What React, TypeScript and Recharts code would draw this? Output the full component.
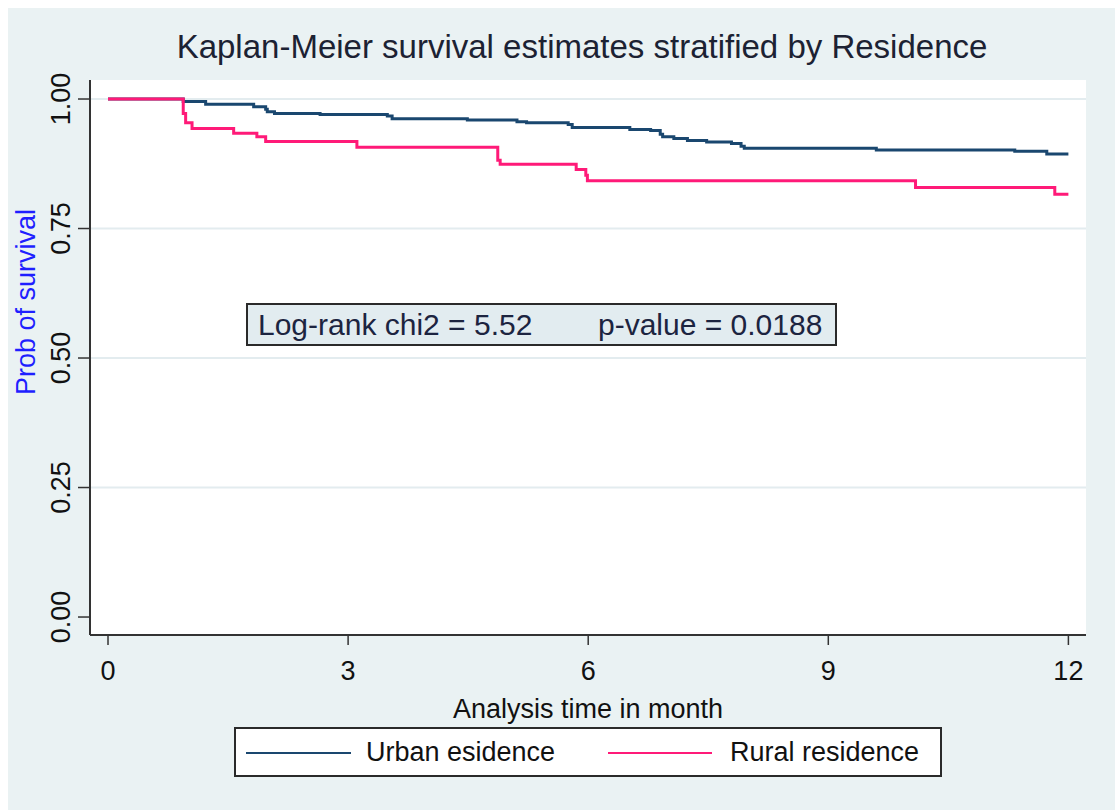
import React from 'react';
import {
    LineChart,
    Line,
    XAxis,
    YAxis,
    CartesianGrid,
    Label,
} from 'recharts';

// Kaplan-Meier step points (time in months, survival prob)
const urbanTime = [0, 0.94, 1.22, 1.82, 1.97, 1.99, 2.08, 2.65, 3.49, 3.55, 4.49, 5.11, 5.23, 5.75, 5.8, 6.52, 6.78, 6.9, 6.93, 7.07, 7.24, 7.48, 7.79, 7.91, 7.95, 9.6, 11.33, 11.73, 12];
const urbanSurv = [1.0, 0.995, 0.99, 0.985, 0.98, 0.9755, 0.972, 0.97, 0.967, 0.962, 0.9595, 0.956, 0.954, 0.951, 0.945, 0.941, 0.939, 0.932, 0.927, 0.924, 0.92, 0.917, 0.914, 0.909, 0.905, 0.9015, 0.899, 0.894, 0.894];

const ruralTime = [0, 0.94, 0.97, 1.05, 1.57, 1.86, 1.97, 3.11, 4.87, 4.9, 5.85, 5.97, 5.99, 10.09, 11.83, 12];
const ruralSurv = [1.0, 0.972, 0.954, 0.943, 0.934, 0.927, 0.918, 0.907, 0.882, 0.874, 0.864, 0.853, 0.842, 0.829, 0.816, 0.816];

const xTicks = [0, 3, 6, 9, 12];
const yTicks = [0, 0.25, 0.5, 0.75, 1];
const gridValues = [0.25, 0.5, 0.75, 1];

const seriesNames = ['Urban esidence', 'Rural residence'];
const chiLabel = 'Log-rank chi2 = 5.52';
const pLabel = 'p-value = 0.0188';

const NAVY = '#1a476f';
const PINK = '#ff1a78';
const FONT = '"Liberation Sans", Arial, sans-serif';

const urbanData = urbanTime.map((t, i) => ({ t, s: urbanSurv[i] }));
const ruralData = ruralTime.map((t, i) => ({ t, s: ruralSurv[i] }));

const YTick = (props: any) => {
    const { y, payload } = props;
    return (
        <text
            x={70}
            y={y}
            transform={`rotate(-90 70 ${y})`}
            textAnchor="middle"
            fontSize={27}
            fontFamily={FONT}
            fill="#111"
        >
            {payload.value.toFixed(2)}
        </text>
    );
};

const XTick = (props: any) => {
    const { x, payload } = props;
    return (
        <text x={x} y={680} textAnchor="middle" fontSize={27} fontFamily={FONT} fill="#111">
            {payload.value}
        </text>
    );
};

export default function App() {
    return (
        <div style={{ position: 'absolute', left: 0, top: 0, width: 1118, height: 810, background: '#fff', fontFamily: FONT }}>
            <div style={{ position: 'absolute', left: 8, top: 8, width: 1107, height: 802, background: '#eaf2f3' }} />

            <LineChart
                width={1118}
                height={810}
                margin={{ top: 80, right: 32, bottom: 115, left: 30 }}
                style={{ position: 'absolute', left: 0, top: 0 }}
            >
                <CartesianGrid
                    vertical={false}
                    horizontalValues={gridValues}
                    stroke="#e3ecef"
                    strokeWidth={2}
                    fill="#ffffff"
                    fillOpacity={1}
                />
                <XAxis
                    type="number"
                    dataKey="t"
                    domain={[-0.225, 12.22]}
                    allowDataOverflow
                    ticks={xTicks}
                    height={60}
                    tickSize={10}
                    axisLine={{ stroke: '#333', strokeWidth: 2 }}
                    tickLine={{ stroke: '#333', strokeWidth: 1.5 }}
                    tick={<XTick />}
                >
                    <Label
                        content={() => (
                            <text x={588} y={718} textAnchor="middle" fontSize={27} fontFamily={FONT} fill="#111">
                                Analysis time in month
                            </text>
                        )}
                    />
                </XAxis>
                <YAxis
                    type="number"
                    dataKey="s"
                    domain={[-0.0347, 1.0367]}
                    allowDataOverflow
                    ticks={yTicks}
                    width={60}
                    tickSize={12}
                    axisLine={{ stroke: '#333', strokeWidth: 2 }}
                    tickLine={{ stroke: '#333', strokeWidth: 1.5 }}
                    tick={<YTick />}
                >
                    <Label
                        content={() => (
                            <text
                                x={35}
                                y={302}
                                transform="rotate(-90 35 302)"
                                textAnchor="middle"
                                fontSize={27}
                                fontFamily={FONT}
                                fill="#1f1fff"
                            >
                                Prob of survival
                            </text>
                        )}
                    />
                </YAxis>
                <Line
                    data={urbanData}
                    dataKey="s"
                    type="stepAfter"
                    stroke={NAVY}
                    strokeWidth={3}
                    dot={false}
                    isAnimationActive={false}
                    name={seriesNames[0]}
                />
                <Line
                    data={ruralData}
                    dataKey="s"
                    type="stepAfter"
                    stroke={PINK}
                    strokeWidth={3}
                    dot={false}
                    isAnimationActive={false}
                    name={seriesNames[1]}
                />
            </LineChart>

            {/* title */}
            <div style={{ position: 'absolute', left: 0, width: 1164, top: 27, textAlign: 'center', fontSize: 33, color: '#1c2233', lineHeight: '40px' }}>
                Kaplan-Meier survival estimates stratified by Residence
            </div>

            {/* log-rank annotation */}
            <div
                style={{
                    position: 'absolute',
                    left: 246,
                    top: 303,
                    width: 587,
                    height: 39,
                    background: '#e2ecf0',
                    border: '2px solid #2a2a2a',
                    color: '#1c2440',
                    fontSize: 30,
                    lineHeight: '40px',
                }}
            >
                <span style={{ position: 'absolute', left: 10 }}>{chiLabel}</span>
                <span style={{ position: 'absolute', left: 350 }}>{pLabel}</span>
            </div>

            {/* legend */}
            <div
                style={{
                    position: 'absolute',
                    left: 234,
                    top: 727,
                    width: 704,
                    height: 46,
                    background: '#fff',
                    border: '2px solid #2a2a2a',
                    fontSize: 27,
                    color: '#111',
                }}
            >
                <div style={{ position: 'absolute', left: 10, top: 23, width: 105, height: 2, background: NAVY }} />
                <span style={{ position: 'absolute', left: 130, top: 8 }}>{seriesNames[0]}</span>
                <div style={{ position: 'absolute', left: 372, top: 23, width: 104, height: 2, background: PINK }} />
                <span style={{ position: 'absolute', left: 494, top: 8 }}>{seriesNames[1]}</span>
            </div>
        </div>
    );
}
